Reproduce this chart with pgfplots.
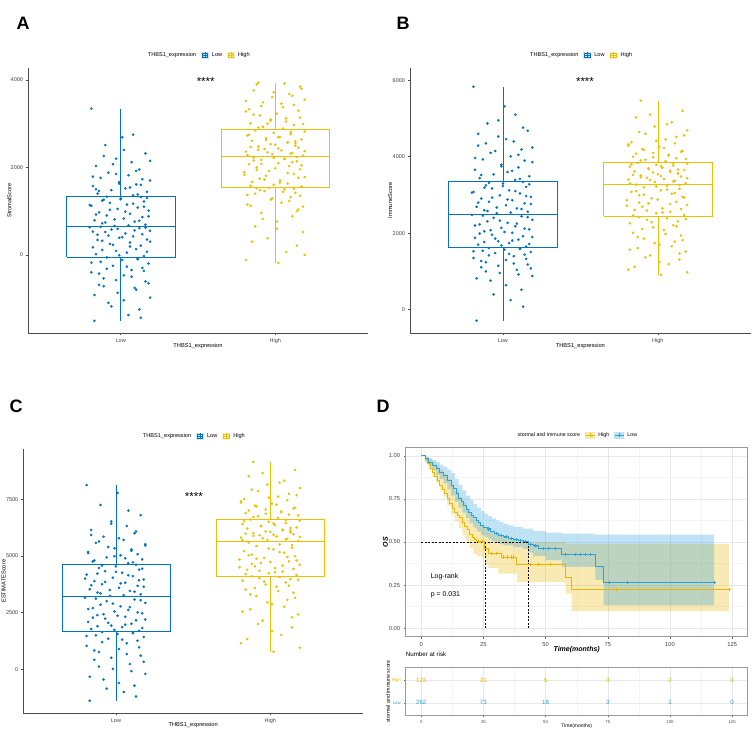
\documentclass[border=0pt]{standalone}
\usepackage{fontspec}
\setmainfont{Liberation Sans}
\usepackage{pgfplots}
\pgfplotsset{compat=1.18}
\usepackage{pgfplotstable}
\usepgfplotslibrary{fillbetween}

\newcommand{\fs}[1]{\fontsize{#1}{#1}\selectfont}
\definecolor{jblue}{HTML}{0073C2}
\definecolor{jyel}{HTML}{EFC000}
\definecolor{kmy}{HTML}{E7B800}
\definecolor{kmb}{HTML}{2E9FDF}

% jitter offsets (dl low, dh high) and scores of panels A, B, C
\pgfplotstableread{
dl dh al ah bl bh cl ch
-0.17 0.02 -1512 -183 -288 907 -1384 776
0.05 -0.19 -1380 -120 250 1050 -1000 1150
0.12 0.07 -1250 60 520 1190 -720 1520
-0.08 0.14 -1100 210 760 1310 -450 1850
0.19 -0.05 -980 380 880 1420 -200 2150
-0.02 0.18 -870 520 960 1520 20 2420
0.09 -0.13 -760 650 1040 1610 230 2650
-0.14 0.01 -690 760 1110 1700 420 2870
0.16 0.11 -610 880 1180 1780 600 3060
-0.11 -0.09 -540 960 1240 1860 760 3230
0.02 0.15 -470 1040 1300 1940 900 3380
-0.19 -0.16 -400 1120 1350 2010 1030 3520
0.07 0.04 -350 1190 1400 2080 1150 3640
0.14 -0.03 -300 1260 1440 2150 1260 3740
-0.05 0.10 -250 1320 1480 2210 1350 3830
0.18 -0.18 -200 1370 1510 2260 1430 3910
-0.13 0.13 -160 1420 1540 2310 1500 3980
0.01 -0.07 -120 1460 1570 2350 1560 4030
0.11 0.06 -90 1500 1590 2390 1610 4070
-0.09 -0.12 -60 1525 1610 2420 1640 4100
0.15 0.17 -30 1560 1650 2480 1700 4160
-0.16 -0.01 10 1600 1700 2520 1780 4240
0.04 0.08 50 1630 1740 2560 1860 4310
-0.03 -0.15 90 1670 1790 2610 1930 4390
0.10 0.03 130 1700 1830 2650 2010 4460
-0.18 -0.10 170 1740 1880 2690 2090 4540
0.13 0.19 210 1780 1920 2740 2160 4610
-0.07 -0.06 250 1810 1960 2780 2240 4690
0.06 0.12 280 1850 2010 2820 2320 4760
-0.12 -0.20 320 1890 2050 2860 2390 4840
0.17 -0.04 350 1920 2100 2910 2470 4910
-0.01 0.16 390 1960 2140 2950 2550 4990
0.08 -0.12 420 2000 2180 2990 2620 5060
-0.15 0.09 460 2030 2230 3030 2700 5140
0.03 -0.17 490 2070 2270 3080 2780 5210
-0.10 0.02 520 2100 2310 3120 2850 5290
0.19 0.14 550 2140 2350 3160 2930 5360
-0.06 -0.09 580 2170 2400 3200 3010 5440
0.12 0.06 610 2200 2440 3240 3080 5510
-0.20 -0.14 630 2230 2480 3270 3160 5590
-0.04 0.18 660 2270 2520 3310 3240 5660
0.16 -0.02 690 2300 2560 3340 3310 5710
-0.12 0.11 720 2330 2600 3370 3390 5760
0.09 -0.19 760 2360 2650 3400 3460 5810
-0.17 0.04 790 2390 2690 3420 3530 5860
0.02 -0.07 830 2420 2730 3450 3600 5910
0.14 0.15 860 2450 2780 3480 3680 5960
-0.09 -0.11 900 2480 2820 3510 3750 6010
0.06 0.00 940 2520 2860 3540 3820 6060
-0.14 0.13 970 2550 2910 3570 3890 6110
0.18 0.08 1010 2580 2950 3600 3960 6160
-0.02 -0.15 1050 2610 2990 3620 4040 6210
0.11 0.17 1080 2640 3040 3650 4110 6260
-0.19 -0.06 1120 2670 3080 3680 4180 6310
0.04 0.03 1150 2700 3120 3710 4260 6360
-0.07 -0.18 1190 2730 3170 3740 4330 6410
0.15 0.10 1220 2760 3210 3770 4400 6460
-0.11 -0.01 1260 2790 3250 3790 4470 6510
0.00 0.19 1290 2820 3300 3820 4540 6560
0.13 -0.13 1320 2850 3340 3840 4610 6610
0.08 0.05 1360 2890 3390 3880 4680 6680
-0.15 -0.08 1400 2930 3440 3920 4760 6750
0.17 0.12 1440 2970 3490 3960 4850 6820
-0.06 -0.16 1480 3010 3540 4000 4940 6890
0.03 0.07 1520 3050 3600 4050 5030 6970
-0.18 -0.03 1570 3100 3660 4100 5130 7050
0.10 0.16 1610 3140 3720 4150 5230 7130
-0.01 -0.10 1660 3190 3790 4200 5340 7220
0.19 0.01 1700 3230 3860 4260 5460 7310
-0.13 -0.19 1760 3280 3930 4320 5580 7410
0.05 -0.17 1820 3330 4010 4380 5710 7510
-0.08 0.05 1880 3380 4100 4450 5850 7620
0.12 0.12 1950 3430 4190 4520 6000 7740
-0.16 -0.08 2030 3490 4290 4600 6150 7860
0.07 0.19 2120 3550 4400 4690 6320 8000
-0.03 -0.02 2200 3610 4530 4790 6520 8150
0.16 0.09 2320 3680 4680 4900 6800 8320
-0.10 -0.14 2510 3760 4870 5030 7250 8520
0.01 0.16 2690 3850 5320 5200 7780 8800
-0.19 -0.11 3345 3940 5830 5464 8126 9153
0.13 0.19 -1440 0 80 980 -1200 950
-0.06 -0.15 -1180 300 400 1120 -850 1330
0.02 0.01 -1040 600 640 1250 -600 1680
-0.17 -0.08 -920 820 820 1370 -330 2000
0.10 0.14 -800 1000 920 1470 -80 2300
-0.11 -0.18 -720 1150 1000 1570 120 2540
0.18 0.09 -650 1230 1080 1660 330 2760
-0.03 -0.02 -580 1290 1150 1740 510 2960
0.07 0.16 -500 1350 1210 1820 680 3150
-0.14 -0.13 -430 1400 1270 1900 830 3300
0.15 0.05 -370 1440 1330 1980 970 3450
-0.09 -0.10 -320 1480 1420 2110 1200 3580
0.04 0.12 -270 1510 1460 2180 1310 3690
-0.19 -0.04 -180 1530 1530 2290 1470 3870
0.11 0.18 -100 1100 1600 2370 1590 3950
-0.01 -0.16 -10 1580 1680 2460 1740 4200
0.17 0.03 70 1650 1720 2540 1820 4280
-0.12 -0.07 110 1720 1770 2590 1900 4350
0.06 0.15 190 1760 1810 2630 1970 4430
-0.05 -0.20 230 1830 1860 2720 2050 4500
0.19 0.08 300 1870 1900 2760 2200 4580
-0.15 -0.12 340 1940 1990 2800 2280 4650
0.01 0.00 400 1980 2030 2880 2360 4730
-0.08 0.17 440 2050 2080 2930 2430 4800
0.14 -0.09 470 2080 2120 3010 2510 4880
-0.18 0.11 530 2120 2200 3050 2660 4950
0.09 -0.14 560 2160 2250 3100 2740 5030
-0.02 0.06 595 2190 2330 3140 2900 5170
0.16 -0.01 620 2215 2420 3220 3050 5330
-0.13 0.14 640 2240 2460 3260 3120 5480
0.05 -0.18 670 2285 2540 3300 3270 5685
-0.10 0.10 740 2315 2580 3355 3350 5735
0.12 -0.05 780 2345 2630 3390 3420 5785
-0.04 0.19 810 2375 2670 3435 3500 5835
0.18 -0.11 880 2405 2760 3465 3640 5885
-0.16 0.02 920 2435 2800 3495 3710 5935
0.03 -0.16 990 2465 2880 3525 3790 5985
-0.07 0.13 1030 2500 2930 3555 3860 6035
0.15 -0.03 1100 2535 2970 3590 3930 6085
-0.20 0.08 1140 2565 3060 3635 4000 6135
0.08 0.13 1170 2595 3100 3665 4150 6235
-0.12 -0.06 1240 2625 3190 3700 4220 6335
0.00 0.02 1270 2690 3230 3755 4300 6435
0.17 -0.17 1300 2745 3280 3805 4440 6535
-0.09 0.10 1330 2805 3320 3830 4580 6585
0.11 -0.11 1380 2910 3420 3900 4720 6720
-0.14 0.18 1460 2990 3520 3940 4800 6790
0.06 -0.03 1540 3070 3630 3980 4900 6860
-0.01 0.07 1630 3120 3750 4030 4990 6930
0.14 -0.14 1730 3210 3900 4080 5080 7010
-0.18 0.15 1790 3300 3970 4130 5180 7090
0.10 -0.09 1920 3400 4050 4180 5290 7180
-0.05 0.04 2070 3460 4150 4230 5400 7260
0.19 -0.19 2150 3520 4240 4290 5520 7360
-0.11 0.11 2260 3640 4350 4350 5640 7460
0.02 -0.01 2400 3720 4460 4420 5780 7570
-0.16 0.17 1500 3800 4600 4560 5930 7680
0.13 -0.12 1600 3900 4760 4650 6080 7930
-0.03 0.06 1850 3920 4950 4850 6420 8240
0.08 -0.05 2750 3000 5100 5100 7000 8650
}\pts

\pgfplotsset{
  boxkey/.style={legend image code/.code={
      \fill[#1!18] (0pt,-3pt) rectangle (7pt,3pt);
      \draw[#1,line width=0.4pt] (0.8pt,-1.8pt) rectangle (6.2pt,1.8pt);
      \draw[#1,line width=0.4pt] (3.5pt,-3pt) -- (3.5pt,3pt);
      \draw[#1,line width=0.4pt] (0.8pt,0pt) -- (6.2pt,0pt);}},
  kmkey/.style={legend image code/.code={
      \fill[#1!30] (0pt,-3pt) rectangle (9pt,3pt);
      \draw[#1,line width=0.7pt] (0pt,0pt) -- (9pt,0pt);
      \draw[#1,line width=0.5pt] (4.5pt,-1.6pt) -- (4.5pt,1.6pt);}},
  bxp/.style={
    anchor=south west, scale only axis, clip=false,
    axis lines=left, axis line style={-, black!70, line width=0.9pt},
    xmin=0.4, xmax=2.6, xtick={1,2}, xticklabels={Low,High},
    tick align=outside, major tick length=2pt,
    tick style={black!70, line width=0.5pt},
    ticklabel style={font=\fs{5.5}, text=black!75},
    yticklabel style={xshift=0.5pt},
    xlabel={THBS1\_expression}, label style={font=\fs{5.7}},
    scaled ticks=false,
    /pgf/number format/assume math mode=true,
    /pgf/number format/set thousands separator={},
    legend columns=3,
    legend style={at={(0.5,1)}, anchor=center, yshift=13pt, draw=none, fill=none,
      font=\fs{5.6}, inner sep=0pt,
      /tikz/every odd column/.append style={column sep=1.5pt},
      /tikz/every even column/.append style={column sep=3pt}},
  },
  boxL/.style={jblue, line width=0.55pt, forget plot},
  boxH/.style={jyel, line width=0.55pt, forget plot},
  dotL/.style={only marks, mark=*, mark size=1.1pt, jblue, forget plot},
  dotH/.style={only marks, mark=*, mark size=1.1pt, jyel, forget plot},
}

\begin{document}
\begin{tikzpicture}

\node[font=\bfseries\fs{18}] at (23pt,709pt) {A};
\node[font=\bfseries\fs{18}] at (403pt,709pt) {B};
\node[font=\bfseries\fs{18}] at (16pt,326pt) {C};
\node[font=\bfseries\fs{18}] at (383pt,326pt) {D};

% ---------- A
\begin{axis}[bxp, at={(28pt,399pt)}, width=340pt, height=265pt,
  ymin=-1790, ymax=4275, ytick={0,2000,4000}, ylabel={StromalScore},
  ylabel style={at={(axis description cs:-0.055,0.5)}, anchor=center},
  xlabel style={at={(axis description cs:0.5,-0.049)}, anchor=center}]
\addlegendimage{empty legend}\addlegendentry{THBS1\_expression}
\addlegendimage{boxkey=jblue}\addlegendentry{Low}
\addlegendimage{boxkey=jyel}\addlegendentry{High}
% boxes: quartiles, median, whiskers
\addplot[boxL] coordinates {(0.65,-46) (1.35,-46) (1.35,1329) (0.65,1329) (0.65,-46)};
\addplot[boxL, line width=0.8pt] coordinates {(0.65,641) (1.35,641)};
\addplot[boxL] coordinates {(1,1329) (1,3345)};
\addplot[boxL] coordinates {(1,-46) (1,-1512)};
\addplot[boxH] coordinates {(1.65,1535) (2.35,1535) (2.35,2864) (1.65,2864) (1.65,1535)};
\addplot[boxH, line width=0.8pt] coordinates {(1.65,2245) (2.35,2245)};
\addplot[boxH] coordinates {(2,2864) (2,3940)};
\addplot[boxH] coordinates {(2,1535) (2,-183)};
\addplot[dotL] table[x expr=1+\thisrow{dl}, y=al] {\pts};
\addplot[dotH] table[x expr=2+\thisrow{dh}, y=ah] {\pts};
\node[font=\fs{11.5}] at (axis cs:1.55,3966) {****};
\end{axis}

% ---------- B
\begin{axis}[bxp, at={(410pt,399pt)}, width=340.7pt, height=265pt,
  ymin=-610, ymax=6320, ytick={0,2000,4000,6000}, ylabel={ImmuneScore},
  ylabel style={at={(axis description cs:-0.058,0.5)}, anchor=center},
  xlabel style={at={(axis description cs:0.5,-0.049)}, anchor=center}]
\addlegendimage{empty legend}\addlegendentry{THBS1\_expression}
\addlegendimage{boxkey=jblue}\addlegendentry{Low}
\addlegendimage{boxkey=jyel}\addlegendentry{High}
\addplot[boxL] coordinates {(0.65,1621) (1.35,1621) (1.35,3346) (0.65,3346) (0.65,1621)};
\addplot[boxL, line width=0.8pt] coordinates {(0.65,2494) (1.35,2494)};
\addplot[boxL] coordinates {(1,3346) (1,5830)};
\addplot[boxL] coordinates {(1,1621) (1,-288)};
\addplot[boxH] coordinates {(1.65,2442) (2.35,2442) (2.35,3853) (1.65,3853) (1.65,2442)};
\addplot[boxH, line width=0.8pt] coordinates {(1.65,3286) (2.35,3286)};
\addplot[boxH] coordinates {(2,3853) (2,5464)};
\addplot[boxH] coordinates {(2,2442) (2,907)};
\addplot[dotL] table[x expr=1+\thisrow{dl}, y=bl] {\pts};
\addplot[dotH] table[x expr=2+\thisrow{dh}, y=bh] {\pts};
\node[font=\fs{11.5}] at (axis cs:1.53,5961) {****};
\end{axis}

% ---------- C
\begin{axis}[bxp, at={(23.3pt,18.7pt)}, width=339.7pt, height=264pt,
  ymin=-1940, ymax=9705, ytick={0,2500,5000,7500}, ylabel={ESTIMATEScore},
  ylabel style={at={(axis description cs:-0.058,0.5)}, anchor=center},
  xlabel style={at={(axis description cs:0.5,-0.045)}, anchor=center}]
\addlegendimage{empty legend}\addlegendentry{THBS1\_expression}
\addlegendimage{boxkey=jblue}\addlegendentry{Low}
\addlegendimage{boxkey=jyel}\addlegendentry{High}
\addplot[boxL] coordinates {(0.65,1658) (1.35,1658) (1.35,4630) (0.65,4630) (0.65,1658)};
\addplot[boxL, line width=0.8pt] coordinates {(0.65,3201) (1.35,3201)};
\addplot[boxL] coordinates {(1,4630) (1,8126)};
\addplot[boxL] coordinates {(1,1658) (1,-1384)};
\addplot[boxH] coordinates {(1.65,4114) (2.35,4114) (2.35,6640) (1.65,6640) (1.65,4114)};
\addplot[boxH, line width=0.8pt] coordinates {(1.65,5626) (2.35,5626)};
\addplot[boxH] coordinates {(2,6640) (2,9153)};
\addplot[boxH] coordinates {(2,4114) (2,776)};
\addplot[dotL] table[x expr=1+\thisrow{dl}, y=cl] {\pts};
\addplot[dotH] table[x expr=2+\thisrow{dh}, y=ch] {\pts};
\node[font=\fs{11.5}] at (axis cs:1.505,7623) {****};
\end{axis}

% ---------- D: survival curves
\begin{axis}[anchor=south west, at={(405.7pt,95.3pt)}, scale only axis, width=342pt, height=189.4pt,
  xmin=-6.25, xmax=131.25, ymin=-0.05, ymax=1.05,
  xtick={0,25,50,75,100,125}, ytick={0,0.25,0.5,0.75,1},
  yticklabels={0.00,0.25,0.50,0.75,1.00},
  minor x tick num=1, minor y tick num=1, grid=both,
  major grid style={black!9, line width=0.5pt}, minor grid style={black!4, line width=0.4pt},
  minor tick length=0pt, tick pos=left, tick align=outside, major tick length=2pt,
  tick style={black!60, line width=0.5pt},
  axis line style={black!40, line width=0.6pt},
  ticklabel style={font=\fs{5.8}, text=black!75},
  /pgf/number format/assume math mode=true,
  xlabel={\textbf{\textit{Time(months)}}}, ylabel={\textbf{\textit{OS}}},
  label style={font=\fs{7}},
  xlabel style={at={(axis description cs:0.5,-0.0665)}, anchor=center},
  ylabel style={at={(axis description cs:-0.059,0.5)}, anchor=center},
  legend columns=3,
  legend style={at={(0.5,1)}, anchor=center, yshift=12.3pt, draw=none, fill=none,
    font=\fs{5.3}, inner sep=0pt,
    /tikz/every odd column/.append style={column sep=1.5pt},
    /tikz/every even column/.append style={column sep=3pt}},
  clip=false]
\addlegendimage{empty legend}\addlegendentry{stormal and immune score}
\addlegendimage{kmkey=kmy}\addlegendentry{High}
\addlegendimage{kmkey=kmb}\addlegendentry{Low}

% confidence bands
\addplot[name path=yu, draw=none, const plot, forget plot] coordinates {
(0,1) (1.5,0.995) (3,0.985) (4.5,0.965) (6,0.945) (7.5,0.92) (9,0.895) (10.5,0.865) (12,0.83)
(13.5,0.795) (15,0.76) (16.5,0.73) (18,0.7) (19.5,0.665) (21,0.635) (22.5,0.615) (24,0.6)
(25.5,0.58) (27,0.56) (29,0.545) (32,0.53) (35,0.515) (38.4,0.5) (58,0.49) (60.5,0.487) (123.7,0.487)};
\addplot[name path=yl, draw=none, const plot, forget plot] coordinates {
(0,1) (1.5,0.96) (3,0.92) (4.5,0.88) (6,0.84) (7.5,0.8) (9,0.76) (10.5,0.71) (12,0.66)
(13.5,0.62) (15,0.58) (16.5,0.54) (18,0.5) (19.5,0.465) (21,0.43) (22.5,0.42) (24,0.41)
(25.6,0.37) (27,0.35) (31,0.316) (38.4,0.267) (58,0.2) (60.5,0.099) (123.7,0.099)};
\addplot[fill=kmy, fill opacity=0.3, draw=none, forget plot] fill between[of=yu and yl];
\addplot[name path=bu, draw=none, const plot, forget plot] coordinates {
(0,1) (1.5,0.995) (3,0.985) (4.5,0.975) (6,0.965) (7.5,0.95) (9,0.935) (10.5,0.92) (12,0.9)
(13.5,0.865) (15,0.83) (16.5,0.8) (18,0.77) (19.5,0.745) (21,0.72) (22.5,0.7) (24,0.68)
(25.5,0.665) (27,0.65) (28.5,0.637) (30,0.625) (31.5,0.615) (33,0.605) (35,0.596) (37,0.587)
(41,0.578) (45,0.564) (50,0.555) (56.5,0.549) (70,0.543) (117.7,0.543)};
\addplot[name path=bl, draw=none, const plot, forget plot] coordinates {
(0,1) (1.5,0.97) (3,0.94) (4.5,0.915) (6,0.89) (7.5,0.865) (9,0.84) (10.5,0.805) (12,0.77)
(13.5,0.735) (15,0.7) (16.5,0.67) (18,0.64) (19.5,0.61) (21,0.585) (22.5,0.56) (24,0.54)
(25.5,0.528) (27,0.515) (28.5,0.505) (30,0.495) (31.5,0.488) (33,0.48) (37,0.47) (41,0.46)
(43,0.44) (45,0.42) (50,0.395) (56.5,0.355) (70,0.28) (73.3,0.132) (117.7,0.132)};
\addplot[fill=kmb, fill opacity=0.3, draw=none, forget plot] fill between[of=bu and bl];

% median lines
\addplot[black, line width=0.6pt, dash pattern=on 2pt off 1.5pt, forget plot] coordinates {(0,0.5) (43.2,0.5)};
\addplot[black, line width=0.6pt, dash pattern=on 2pt off 1.5pt, forget plot] coordinates {(25.6,0) (25.6,0.5)};
\addplot[black, line width=0.6pt, dash pattern=on 2pt off 1.5pt, forget plot] coordinates {(43.2,0) (43.2,0.5)};

% Kaplan-Meier estimates
\addplot[kmy, line width=0.9pt, const plot, forget plot] coordinates {
(0,1) (1.5,0.98) (2.5,0.955) (3.5,0.93) (4.5,0.905) (5.5,0.88) (6.5,0.855) (7.5,0.83) (8.5,0.805)
(9.5,0.78) (10.5,0.755) (11.5,0.725) (12.5,0.695) (13.5,0.67) (14.5,0.655) (15.5,0.64) (16.5,0.615)
(17.5,0.59) (18.5,0.57) (19.5,0.545) (20.5,0.525) (21.5,0.512) (22.3,0.505) (25.6,0.46) (27,0.432)
(32.4,0.413) (38.4,0.37) (58,0.297) (60.5,0.223) (123.7,0.223)};
\addplot[kmb, line width=0.9pt, const plot, forget plot] coordinates {
(0,1) (1.5,0.985) (3,0.962) (4.5,0.945) (6,0.928) (7.5,0.905) (9,0.885) (10.5,0.86) (12,0.83)
(13,0.81) (14,0.78) (15,0.755) (16,0.735) (17,0.71) (18,0.69) (19,0.674) (20,0.655) (21,0.64)
(22,0.626) (23,0.612) (24,0.598) (25,0.586) (26.5,0.576) (28,0.563) (29.5,0.55) (31,0.537)
(33,0.53) (35,0.522) (37,0.515) (39,0.508) (41,0.502) (43,0.487) (45,0.478) (47,0.461)
(56.5,0.428) (70,0.36) (73.3,0.267) (117.7,0.267)};
% censored
\addplot[kmy, only marks, mark=+, mark size=1.6pt, line width=0.5pt, forget plot] coordinates {
(23,0.505) (24.5,0.505) (28,0.432) (30,0.432) (33,0.413) (34.5,0.413) (36,0.413) (37,0.413)
(44,0.37) (47,0.37) (52,0.37) (78.3,0.223) (117.5,0.223) (123.7,0.223)};
\addplot[kmb, only marks, mark=+, mark size=1.6pt, line width=0.5pt, forget plot] coordinates {
(27,0.576) (30,0.55) (32,0.537) (34,0.53) (36,0.522) (38,0.515) (40,0.508) (42,0.502) (44,0.487)
(46,0.478) (49,0.461) (51,0.461) (54,0.461) (57.8,0.428) (61.8,0.428) (63.8,0.428) (65.8,0.428)
(67.8,0.428) (75.4,0.267) (83,0.267) (117.7,0.267)};

\node[anchor=west, font=\fs{7}] at (axis cs:2.4,0.297) {Log-rank};
\node[anchor=west, font=\fs{7}] at (axis cs:2.4,0.196) {p = 0.031};
\end{axis}

% ---------- D: number at risk
\begin{axis}[anchor=south west, at={(405.7pt,16.3pt)}, scale only axis, width=342pt, height=48.4pt,
  xmin=-6.25, xmax=131.25, ymin=0.43, ymax=2.57,
  xtick={0,25,50,75,100,125}, ytick={1,2},
  yticklabels={\textcolor{kmb}{Low},\textcolor{kmy}{High}},
  minor x tick num=1, grid=both,
  major grid style={black!9, line width=0.5pt}, minor grid style={black!4, line width=0.4pt},
  minor tick length=0pt, tick pos=left, tick align=outside, major tick length=1.5pt,
  tick style={black!60, line width=0.4pt},
  axis line style={black!40, line width=0.6pt},
  ticklabel style={font=\fs{4.3}, text=black!70},
  /pgf/number format/assume math mode=true,
  xlabel={Time(months)},
  xlabel style={font=\fs{5}, at={(axis description cs:0.5,-0.213)}, anchor=center},
  ylabel={stormal and immune score},
  ylabel style={font=\fs{5.3}, at={(axis description cs:-0.052,0.5)}, anchor=center},
  title={Number at risk},
  title style={at={(axis description cs:0,1)}, anchor=west, font=\fs{6.2}, inner sep=0pt, yshift=7.3pt},
  clip=false]
\addplot[only marks, mark=*, mark size=0pt, draw=none, point meta=explicit symbolic, nodes near coords,
  nodes near coords align=center,
  every node near coord/.append style={font=\fs{6.2}, text=kmy}] coordinates {
(0,2) [123] (25,2) [31] (50,2) [5] (75,2) [3] (100,2) [2] (125,2) [0]};
\addplot[only marks, mark=*, mark size=0pt, draw=none, point meta=explicit symbolic, nodes near coords,
  nodes near coords align=center,
  every node near coord/.append style={font=\fs{6.2}, text=kmb}] coordinates {
(0,1) [262] (25,1) [73] (50,1) [18] (75,1) [3] (100,1) [1] (125,1) [0]};
\end{axis}

\pgfresetboundingbox
\path[use as bounding box] (0pt,0pt) rectangle (753pt,732pt);
\end{tikzpicture}
\end{document}
